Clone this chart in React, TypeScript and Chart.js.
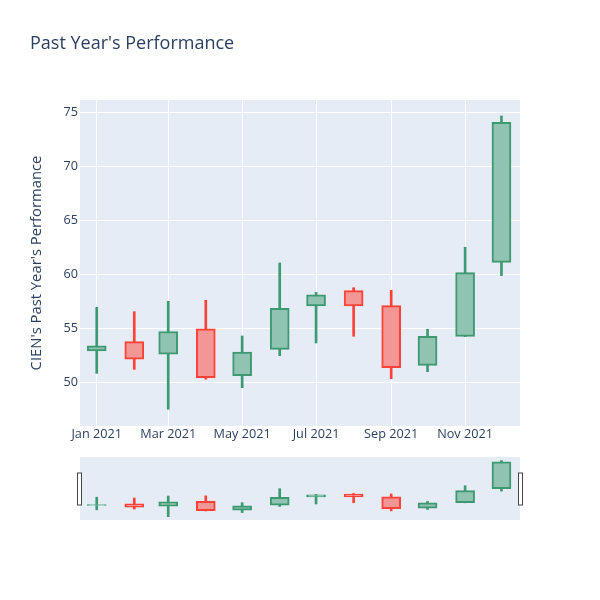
import React, { useEffect, useRef } from "react";
import { Chart, registerables } from "chart.js";

Chart.register(...registerables);

const dates = [
  "2021-01-01", "2021-02-01", "2021-03-01", "2021-04-01", "2021-05-01", "2021-06-01",
  "2021-07-01", "2021-08-01", "2021-09-01", "2021-10-01", "2021-11-01", "2021-12-01",
];
const openV = [52.9, 53.76, 52.6, 54.96, 50.6, 53.05, 57.06, 58.48, 57.1, 51.57, 54.25, 61.1];
const highV = [56.94, 56.54, 57.5, 57.59, 54.29, 61.05, 58.33, 58.76, 58.52, 54.9, 62.5, 74.66];
const lowV = [50.83, 51.2, 47.5, 50.28, 49.5, 52.46, 53.64, 54.26, 50.33, 50.98, 54.22, 59.87];
const closeV = [53.38, 52.13, 54.7, 50.43, 52.8, 56.85, 58.1, 57.06, 51.35, 54.26, 60.15, 74.07];

const tickDates = ["2021-01-01", "2021-03-01", "2021-05-01", "2021-07-01", "2021-09-01", "2021-11-01"];
const tickLabels = ["Jan 2021", "Mar 2021", "May 2021", "Jul 2021", "Sep 2021", "Nov 2021"];
const yTicks = [50, 55, 60, 65, 70, 75];

const TITLE = "Past Year's Performance";
const Y_TITLE = "CIEN's Past Year's Performance";

const FONT = "'Open Sans', 'Noto Sans', sans-serif";
const TEXT = "#2a3f5f";
const BG = "#E5ECF6";
const UP = "#3D9970";
const DOWN = "#FF4136";
const UP_FILL = "rgb(145,195,179)";
const DOWN_FILL = "rgb(242,151,150)";

const DAY = 86400000;
const base = Date.UTC(2021, 0, 1);
const toDay = (s: string) => (Date.parse(s + "T00:00:00Z") - base) / DAY;
const xs = dates.map(toDay);
const tickXs = tickDates.map(toDay);

const X_MIN = -13.8;
const X_MAX = 349.3;
const Y_MIN = 45.95;
const Y_MAX = 76.14;

function buildDatasets() {
  const isUp = openV.map((o, i) => closeV[i] >= o);
  const wick = {
    type: "bar" as const,
    data: xs.map((x, i) => ({ x, y: [lowV[i], highV[i]] })),
    backgroundColor: isUp.map((u) => (u ? UP : DOWN)),
    borderWidth: 0,
    barThickness: 2,
    grouped: false,
    order: 2,
  };
  const body = {
    type: "bar" as const,
    data: xs.map((x, i) => ({ x, y: [openV[i], closeV[i]] })),
    backgroundColor: isUp.map((u) => (u ? UP_FILL : DOWN_FILL)),
    borderColor: isUp.map((u) => (u ? UP : DOWN)),
    borderWidth: 2,
    borderSkipped: false,
    barThickness: 19,
    grouped: false,
    order: 1,
  };
  return [wick, body];
}

const bgPlugin = {
  id: "bgfill",
  beforeDraw(chart: any) {
    const { ctx, chartArea: a } = chart;
    ctx.save();
    ctx.fillStyle = BG;
    ctx.fillRect(a.left, a.top, a.right - a.left, a.bottom - a.top);
    ctx.restore();
  },
};

const titlePlugin = {
  id: "titletext",
  afterDraw(chart: any) {
    const { ctx } = chart;
    ctx.save();
    ctx.fillStyle = TEXT;
    ctx.font = `18px ${FONT}`;
    ctx.textBaseline = "middle";
    ctx.textAlign = "left";
    ctx.fillText(TITLE, 30, 44);
    ctx.restore();
  },
};

const handlePlugin = {
  id: "handles",
  afterDraw(chart: any) {
    const { ctx, chartArea: a } = chart;
    ctx.save();
    ctx.fillStyle = "#ffffff";
    ctx.strokeStyle = "#444444";
    ctx.lineWidth = 1;
    const h = 32;
    const top = (a.top + a.bottom) / 2 - h / 2;
    ctx.fillRect(a.left - 3, top, 4, h);
    ctx.strokeRect(a.left - 2.5, top + 0.5, 4, h);
    ctx.fillRect(a.right - 1, top, 4, h);
    ctx.strokeRect(a.right - 1.5, top + 0.5, 4, h);
    ctx.restore();
  },
};

export default function App() {
  const mainRef = useRef<HTMLCanvasElement>(null);
  const sliderRef = useRef<HTMLCanvasElement>(null);

  useEffect(() => {
    const main = new Chart(mainRef.current!, {
      type: "bar",
      data: { datasets: buildDatasets() as any },
      plugins: [bgPlugin, titlePlugin],
      options: {
        animation: false,
        responsive: false,
        maintainAspectRatio: false,
        layout: { padding: { top: 100, right: 80, bottom: 0, left: 0 } },
        plugins: { legend: { display: false }, tooltip: { enabled: false }, title: { display: false } },
        scales: {
          x: {
            type: "linear",
            min: X_MIN,
            max: X_MAX,
            offset: false,
            grid: { color: "#ffffff", lineWidth: 1, drawTicks: false, offset: false },
            border: { display: false },
            afterBuildTicks(scale: any) {
              scale.ticks = tickXs.map((v) => ({ value: v }));
            },
            afterFit(scale: any) {
              scale.height = 174;
            },
            ticks: {
              autoSkip: false,
              maxRotation: 0,
              padding: 1,
              color: TEXT,
              font: { family: FONT, size: 12.7 },
              callback: (v: any) => {
                const i = tickXs.indexOf(Number(v));
                return i >= 0 ? tickLabels[i] : "";
              },
            },
          },
          y: {
            type: "linear",
            min: Y_MIN,
            max: Y_MAX,
            grid: { color: "#ffffff", lineWidth: 1, drawTicks: false },
            border: { display: false },
            afterBuildTicks(scale: any) {
              scale.ticks = yTicks.map((v) => ({ value: v }));
            },
            afterFit(scale: any) {
              scale.width = 80;
            },
            title: {
              display: true,
              text: Y_TITLE,
              color: TEXT,
              font: { family: FONT, size: 14.8 },
              padding: { top: 28, bottom: 0 },
            },
            ticks: {
              padding: 2,
              color: TEXT,
              font: { family: FONT, size: 12.7 },
            },
          },
        },
      },
    });

    const slider = new Chart(sliderRef.current!, {
      type: "bar",
      data: { datasets: buildDatasets() as any },
      plugins: [bgPlugin, handlePlugin],
      options: {
        animation: false,
        responsive: false,
        maintainAspectRatio: false,
        layout: { padding: { top: 7, right: 80, bottom: 10, left: 80 } },
        plugins: { legend: { display: false }, tooltip: { enabled: false } },
        scales: {
          x: { type: "linear", min: X_MIN, max: X_MAX, display: false, offset: false },
          y: { type: "linear", min: 45.9, max: 76.4, display: false },
        },
      },
    });

    return () => {
      main.destroy();
      slider.destroy();
    };
  }, []);

  return (
    <div style={{ position: "absolute", left: 0, top: 0, width: 600, height: 600, background: "#fff" }}>
      <canvas ref={mainRef} width={600} height={600} style={{ position: "absolute", left: 0, top: 0 }} />
      <canvas ref={sliderRef} width={600} height={80} style={{ position: "absolute", left: 0, top: 450 }} />
    </div>
  );
}
